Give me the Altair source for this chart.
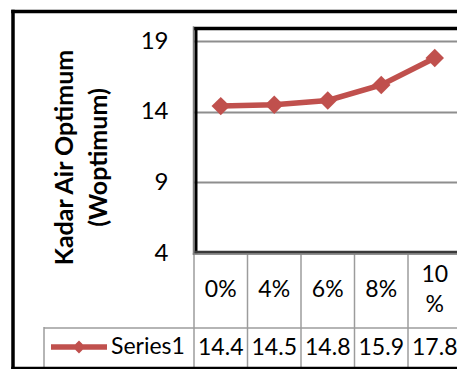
import altair as alt
import pandas as pd

# ---- data -------------------------------------------------------------
categories = ["0%", "4%", "6%", "8%", "10%"]
values = [14.4, 14.5, 14.8, 15.9, 17.8]
series_name = "Series1"
y_ticks = [4, 9, 14, 19]
y_title = ["Kadar Air Optimum", "(Woptimum)"]

# ---- style ------------------------------------------------------------
RED = "#C0504D"
GRID = "#8E8E8E"
TABLE = "#9C9C9C"
FONT = "Lato"
FS = 23

# plot area geometry (pixels)
LEFT, TOP = 194, 27
W, H = 263, 226
COL = 53.5  # width of one data-table column
LINE_H = 30  # line height of wrapped header labels

# legend key: a short line with a diamond in the middle
LEGEND_SYMBOL = "M-1,-0.1L1,-0.1L1,0.1L-1,0.1Z M0,-0.23L0.23,0L0,0.23L-0.23,0Z"

df = pd.DataFrame({"cat": categories, "value": values,
                   "series": [series_name] * len(categories)})
one = pd.DataFrame({"k": [0]})

x_scale = alt.Scale(domain=categories, range=[0, COL * len(categories)],
                    paddingInner=0, paddingOuter=0)
x_enc = alt.X("cat:N", sort=categories, scale=x_scale, axis=None)

y_enc = alt.Y(
    "value:Q",
    scale=alt.Scale(domain=[4, 20], nice=False, zero=False),
    axis=alt.Axis(
        values=y_ticks, grid=True, gridColor=GRID, gridWidth=2,
        domain=False, ticks=False, tickSize=0, labelPadding=26,
        labelFont=FONT, labelFontSize=24, labelColor="black",
        title=y_title, titleFont=FONT, titleFontSize=25,
        titleFontWeight="bold", titleColor="black", titleAngle=270,
        titleX=-130, titleY=130, titleAlign="center",
        titleBaseline="middle", titleLineHeight=34,
    ),
)

base = alt.Chart(df)

line = base.mark_line(color=RED, strokeWidth=5.5).encode(x=x_enc, y=y_enc)

points = base.mark_point(shape="diamond", filled=True, size=340, opacity=1).encode(
    x=x_enc,
    y=y_enc,
    color=alt.Color(
        "series:N",
        scale=alt.Scale(domain=[series_name], range=[RED]),
        legend=alt.Legend(
            title=None, orient="none", legendX=-143, legendY=292, padding=0,
            symbolType=LEGEND_SYMBOL, symbolSize=3136, symbolStrokeWidth=0,
            labelFont=FONT, labelFontSize=FS, labelColor="black", labelOffset=4,
        ),
    ),
)

# ---- data table under the plot ---------------------------------------
# labels wider than a column wrap before the "%" sign
header_text = dict(font=FONT, fontSize=FS, color="black", baseline="middle")
header_single = base.transform_filter("length(datum.cat) <= 2").mark_text(
    **header_text).encode(x=x_enc, y=alt.value(263), text="cat:N")
header_wrapped = base.transform_filter("length(datum.cat) > 2").transform_calculate(
    label="replace(datum.cat, '%', '\\n%')"
).mark_text(lineBreak="\n", lineHeight=LINE_H, **header_text).encode(
    x=x_enc, y=alt.value(263 - LINE_H / 2), text="label:N")

cells = base.mark_text(font=FONT, fontSize=FS, color="black",
                       baseline="middle").encode(
    x=x_enc, y=alt.value(321), text=alt.Text("value:Q", format=".1f"))

col_lines = base.mark_rule(color=TABLE, strokeWidth=1.5).encode(
    x=alt.X("cat:N", sort=categories, scale=x_scale, axis=None, bandPosition=0),
    y=alt.value(H), y2=alt.value(341))

row_line = alt.Chart(one).mark_rule(color=TABLE, strokeWidth=1.5).encode(
    x=alt.value(-150), x2=alt.value(W + 20), y=alt.value(301))
key_left = alt.Chart(one).mark_rule(color=TABLE, strokeWidth=1.5).encode(
    x=alt.value(-150), y=alt.value(300), y2=alt.value(341))


def hrule(y, x1, x2, color, w):
    return alt.Chart(one).mark_rule(color=color, strokeWidth=w, strokeCap="square").encode(
        x=alt.value(x1), x2=alt.value(x2), y=alt.value(y))


def vrule(x, y1, y2, color, w):
    return alt.Chart(one).mark_rule(color=color, strokeWidth=w, strokeCap="square").encode(
        x=alt.value(x), y=alt.value(y1), y2=alt.value(y2))


# ---- plot-area border ------------------------------------------------
plot_frame = [
    vrule(-0.5, 0, H + 1, "#7F7F7F", 1.5),
    vrule(2, 1.5, H - 1, "black", 3),
    hrule(1.5, 2, W + 20, "black", 3.5),
    hrule(H - 1, 2, W + 20, "#3A3A3A", 2.5),
    hrule(H + 1, -0.5, W + 20, "#7F7F7F", 1.5),
]

# ---- outer chart border ----------------------------------------------
outer = [
    vrule(-181, -15.5, 341.5, "black", 3.5),
    hrule(-15.5, -181, W + 20, "black", 3.5),
    hrule(341.5, -181, W + 20, "black", 3.5),
]

chart = alt.layer(
    col_lines, row_line, key_left, header_single, header_wrapped, cells,
    line, points, *plot_frame, *outer,
).properties(
    width=W, height=H,
    padding={"left": LEFT, "top": TOP, "right": 0, "bottom": 369 - TOP - H},
    autosize=alt.AutoSizeParams(type="none"),
    background="white",
).configure_view(stroke="transparent")

chart.save("out.html", embed_options={"renderer": "svg", "actions": False})
